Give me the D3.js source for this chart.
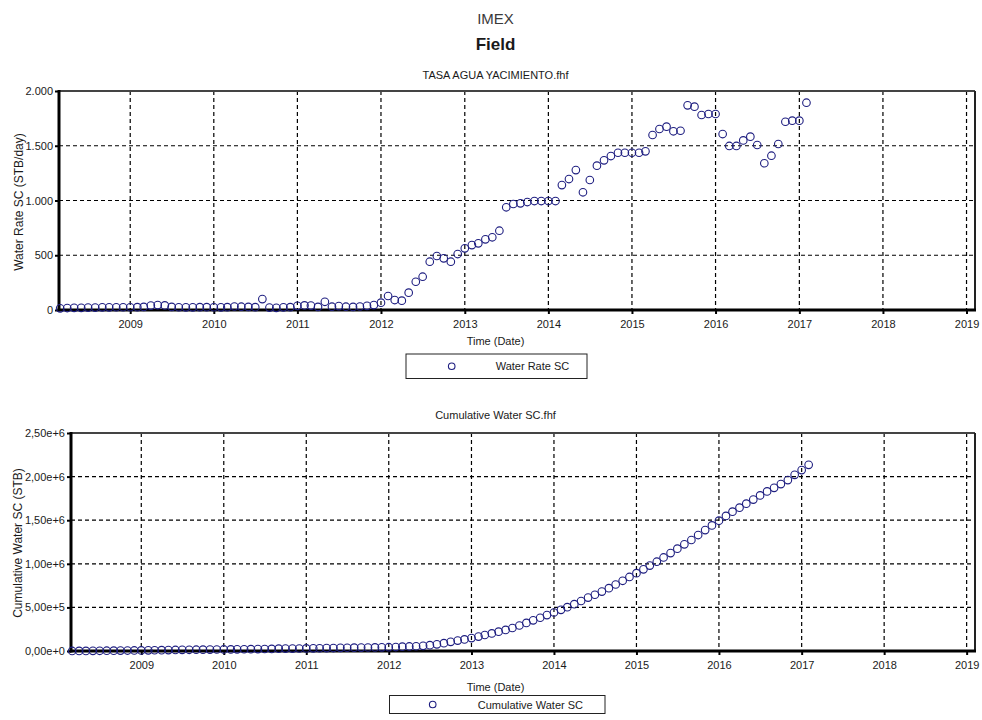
<!DOCTYPE html>
<html>
<head>
<meta charset="utf-8">
<script src="https://cdn.jsdelivr.net/npm/d3@7"></script>
<style>
  body { margin: 0; background: #fff; }
  svg { display: block; font-family: "Liberation Sans", Arial, sans-serif; }
</style>
</head>
<body>
<svg id="chart" width="982" height="720"></svg>
<script>
// Monthly field water data, first sample March 2008
const firstMonth = new Date(2008, 2, 1);

// Water Rate SC (STB/day), one value per month
const waterRate = [
  15, 18, 20, 20, 22, 22, 24, 24, 25, 25,                                 // 2008 Mar-Dec
  25, 26, 28, 40, 45, 42, 28, 25, 24, 24, 26, 26,                         // 2009
  25, 24, 26, 32, 30, 28, 26, 100, 22, 20, 24, 26,                        // 2010
  38, 42, 40, 28, 75, 30, 36, 30, 28, 32, 38, 45,                         // 2011
  67, 128, 91, 85, 158, 258, 304, 441, 493, 472, 441, 511,                // 2012
  563, 593, 609, 645, 664, 724, 938, 968, 974, 986, 995, 995,             // 2013
  995, 995, 1141, 1196, 1278, 1075, 1187, 1318, 1367, 1406, 1436, 1436,   // 2014
  1436, 1436, 1449, 1598, 1653, 1674, 1632, 1637, 1869, 1857, 1781, 1790, // 2015
  1790, 1607, 1498, 1498, 1549, 1583, 1507, 1340, 1409, 1516, 1719, 1729, // 2016
  1729, 1893                                                              // 2017 Jan-Feb
];

// Cumulative Water SC (STB), one value per month
const cumulativeWater = [
  300, 760, 1300, 1900, 2500, 3170, 3840, 4570, 5300, 6060,
  6820, 7580, 8370, 9220, 10440, 11810, 13090, 13940, 14700, 15430, 16160, 16950,
  17740, 18500, 19230, 20020, 20990, 21900, 22750, 23540, 26580, 27250, 27860, 28590,
  29380, 30540, 31820, 33040, 33890, 36170, 37080, 38180, 39090, 39940, 40910, 42070,
  43440, 45480, 49370, 52140, 54720, 59520, 67360, 76600, 90010, 105000, 119350, 132760,
  148290, 165410, 183440, 201950, 221560, 241750, 263760, 292280, 321710, 351320, 381290, 411540,
  441790, 472040, 502290, 536980, 573340, 612190, 644870, 680950, 721020, 762580, 805320, 848970,
  892620, 936270, 979920, 1023970, 1072550, 1122800, 1173690, 1223300, 1273060, 1329880, 1386330, 1440470,
  1494890, 1549310, 1598160, 1643700, 1689240, 1736330, 1784450, 1830260, 1871000, 1913830, 1959920, 2020000,
  2075000, 2135000
];

const yearTicks = [2009, 2010, 2011, 2012, 2013, 2014, 2015, 2016, 2017, 2018, 2019];
const rateTicks = [0, 500, 1000, 1500, 2000];
const rateTickLabels = ["0", "500", "1.000", "1.500", "2.000"];
const cumTicks = [0, 500000, 1000000, 1500000, 2000000, 2500000];
const cumTickLabels = ["0,00e+0", "5,00e+5", "1,00e+6", "1,50e+6", "2,00e+6", "2,50e+6"];

const months = d3.timeMonth.range(firstMonth, d3.timeMonth.offset(firstMonth, waterRate.length));
const timeDomain = [new Date(2008, 1, 25), new Date(2019, 1, 7)];

const svg = d3.select("#chart");
const ink = "#1a1a1a";
const markColor = "#1e1e80";
const markR = 3.8;
const cx = 495.5;

// Page headings
svg.append("text").attr("x", cx).attr("y", 23.5).attr("text-anchor", "middle")
  .attr("font-size", 15).attr("fill", "#3a3a3a").text("IMEX");
svg.append("text").attr("x", cx).attr("y", 50).attr("text-anchor", "middle")
  .attr("font-size", 17).attr("font-weight", "bold").attr("fill", ink).text("Field");

function panel(o) {
  const g = svg.append("g");
  const x = d3.scaleTime().domain(timeDomain).range([o.left, o.right]);
  const y = d3.scaleLinear().domain([0, o.ticks[o.ticks.length - 1]]).range([o.bottom, o.top]);

  // title
  g.append("text").attr("x", cx).attr("y", o.titleY).attr("text-anchor", "middle")
    .attr("font-size", 11).attr("fill", ink).text(o.title);

  // dashed grid
  const grid = g.append("g").attr("stroke", "#000").attr("stroke-width", 1.2)
    .attr("stroke-dasharray", "4,3");
  grid.selectAll("line.h").data(o.ticks.slice(1, -1)).join("line")
    .attr("x1", o.left).attr("x2", o.right)
    .attr("y1", d => y(d)).attr("y2", d => y(d));
  grid.selectAll("line.v").data(yearTicks).join("line")
    .attr("x1", d => x(new Date(d, 0, 1))).attr("x2", d => x(new Date(d, 0, 1)))
    .attr("y1", o.top).attr("y2", o.bottom);

  // frame
  g.append("line").attr("x1", o.left).attr("x2", o.right).attr("y1", o.top).attr("y2", o.top)
    .attr("stroke", "#444").attr("stroke-width", 2);
  g.append("line").attr("x1", o.right).attr("x2", o.right).attr("y1", o.top).attr("y2", o.bottom)
    .attr("stroke", "#222").attr("stroke-width", 2);

  // axes
  const yAxis = g.append("g").attr("transform", `translate(${o.left},0)`)
    .call(d3.axisLeft(y).tickValues(o.ticks).tickFormat((d, i) => o.labels[i])
      .tickSize(4).tickPadding(2));
  const xAxis = g.append("g").attr("transform", `translate(0,${o.bottom})`)
    .call(d3.axisBottom(x).tickValues(yearTicks.map(d => new Date(d, 0, 1)))
      .tickFormat(d3.timeFormat("%Y")).tickSize(4).tickPadding(6));
  [yAxis, xAxis].forEach(a => {
    a.select(".domain").remove();
    a.selectAll(".tick line").attr("stroke", "#000").attr("stroke-width", 2);
    a.selectAll(".tick text").attr("font-size", 11).attr("fill", ink)
      .attr("font-family", "Liberation Sans, Arial, sans-serif");
  });
  g.append("line").attr("x1", o.left).attr("x2", o.left).attr("y1", o.top - 1).attr("y2", o.bottom + 1.5)
    .attr("stroke", "#000").attr("stroke-width", 3);
  g.append("line").attr("x1", o.left - 1.5).attr("x2", o.right + 1).attr("y1", o.bottom).attr("y2", o.bottom)
    .attr("stroke", "#000").attr("stroke-width", 3);

  // axis titles
  g.append("text").attr("transform", `translate(${o.yLabelX},${o.yLabelY}) rotate(-90)`)
    .attr("text-anchor", "middle").attr("font-size", 12).attr("fill", ink).text(o.yLabel);
  g.append("text").attr("x", cx).attr("y", o.xLabelY).attr("text-anchor", "middle")
    .attr("font-size", 11).attr("fill", ink).text("Time (Date)");

  // markers
  g.append("g").selectAll("circle").data(o.values).join("circle")
    .attr("cx", (d, i) => x(months[i])).attr("cy", d => y(d)).attr("r", markR)
    .attr("fill", "none").attr("stroke", markColor).attr("stroke-width", 1.1);

  // legend
  const L = o.legend;
  g.append("rect").attr("x", L.x).attr("y", L.y).attr("width", L.w).attr("height", L.h)
    .attr("fill", "#fff").attr("stroke", "#222").attr("stroke-width", 1);
  g.append("circle").attr("cx", L.cx).attr("cy", L.y + L.h / 2).attr("r", 3.3)
    .attr("fill", "none").attr("stroke", markColor).attr("stroke-width", 1.1);
  g.append("text").attr("x", L.tx).attr("y", L.y + L.h / 2 + 4).attr("font-size", 11)
    .attr("fill", ink).text(o.seriesName);
}

panel({
  left: 59, right: 975, top: 91, bottom: 310,
  ticks: rateTicks, labels: rateTickLabels, values: waterRate,
  title: "TASA AGUA YACIMIENTO.fhf", titleY: 79,
  yLabel: "Water Rate SC (STB/day)", yLabelX: 22.5, yLabelY: 202,
  xLabelY: 344.5, seriesName: "Water Rate SC",
  legend: { x: 406, y: 354, w: 181, h: 24.5, cx: 451.7, tx: 495.7 }
});

panel({
  left: 71, right: 975, top: 433, bottom: 651,
  ticks: cumTicks, labels: cumTickLabels, values: cumulativeWater,
  title: "Cumulative Water SC.fhf", titleY: 419,
  yLabel: "Cumulative Water SC (STB)", yLabelX: 21.5, yLabelY: 543,
  xLabelY: 691, seriesName: "Cumulative Water SC",
  legend: { x: 389.5, y: 695.5, w: 215.5, h: 18, cx: 432.7, tx: 477.7 }
});
</script>
</body>
</html>
